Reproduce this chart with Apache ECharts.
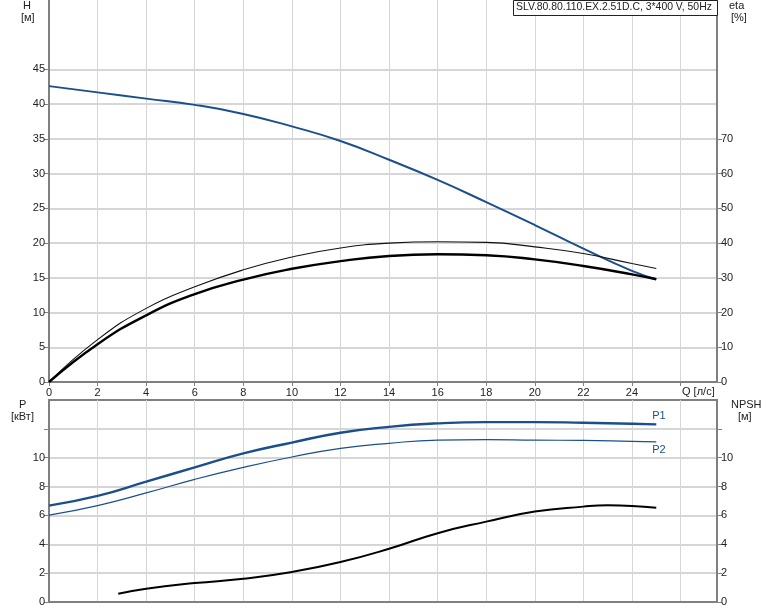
<!DOCTYPE html>
<html><head><meta charset="utf-8">
<script src="https://cdn.jsdelivr.net/npm/echarts@6/dist/echarts.min.js"></script>
<style>html,body{margin:0;padding:0;background:#fff}#c{width:774px;height:611px}</style>
</head><body><div id="c"></div>
<script>
const title = 'SLV.80.80.110.EX.2.51D.C, 3*400 V, 50Hz';
const qTicks = [0,2,4,6,8,10,12,14,16,18,20,22,24];
const hTicks = [0,5,10,15,20,25,30,35,40,45];
const etaTicks = [0,10,20,30,40,50,60,70];
const pTicks = [0,2,4,6,8,10,12];

const qH = [0,2,4,6,8,10,12,14,16,18,20,22,24,25];
const H  = [42.6,41.7,40.8,39.9,38.6,36.8,34.7,32.0,29.1,25.9,22.6,19.2,16.0,14.8];

const qEta = [0,2,4,6,8,10,12,14,16,18,20,22,24,25];
const etaThick = [0,10.9,19.2,25.3,29.5,32.6,34.8,36.3,36.8,36.5,35.3,33.4,31.0,29.6];
const etaThin  = [0,12.2,21.2,27.4,32.3,36.0,38.6,40.0,40.4,40.2,38.9,37.0,34.1,32.7];

const qP = [0,2,4,6,8,10,12,14,16,18,20,22,24,25];
const P1 = [6.68,7.35,8.34,9.33,10.3,11.05,11.73,12.14,12.38,12.47,12.47,12.42,12.35,12.31];
const P2 = [6.02,6.68,7.56,8.5,9.33,10.05,10.65,11.0,11.22,11.26,11.22,11.2,11.13,11.1];

const qN = [2.85,4,6,8,10,12,14,16,18,20,22,23,24,25];
const NPSH = [0.57,0.92,1.31,1.61,2.08,2.77,3.69,4.77,5.57,6.27,6.61,6.7,6.66,6.54];

const pairs = (xs, ys) => xs.map((x, i) => [x, ys[i]]);

const AX = '#808080', TXT = '#222', GRIDC = '#d6d6d6', BLUE = '#1a4f8c';
const FF = 'Liberation Sans, Arial, sans-serif';
const font = {fontFamily: FF, fontSize: 11, color: TXT};

const chart = echarts.init(document.getElementById('c'), null, {renderer: 'canvas'});

function yAx(grid, pos, max, interval, ticks, labelMax, showSplit) {
  return {
    type: 'value', gridIndex: grid, position: pos, min: 0, max: max, interval: interval,
    axisLine: {show: true, onZero: false, lineStyle: {color: AX, width: 2}},
    axisTick: {show: true, length: 5, lineStyle: {color: AX, width: 1}, customValues: ticks},
    axisLabel: Object.assign({margin: 4, customValues: ticks.filter(v => v <= labelMax)}, font),
    splitLine: {show: showSplit, lineStyle: {color: GRIDC, width: 2}}
  };
}

function line(name, xi, yi, data, color, width, extra) {
  return Object.assign({type: 'line', name: name, xAxisIndex: xi, yAxisIndex: yi, data: data,
    smooth: 0.5, showSymbol: false, lineStyle: {color: color, width: width}}, extra || {});
}

chart.setOption({
  animation: false,
  grid: [
    {left: 49, right: 57, top: 0, height: 382, show: false},
    {left: 49, right: 57, top: 400, height: 202, show: true, borderColor: AX, borderWidth: 2, backgroundColor: 'transparent'}
  ],
  xAxis: [
    {type: 'value', gridIndex: 0, min: 0, max: 27.5, interval: 2,
     axisLine: {show: true, onZero: false, lineStyle: {color: AX, width: 2}},
     axisTick: {show: true, length: 4, lineStyle: {color: AX}, customValues: qTicks.concat([26])},
     axisLabel: Object.assign({margin: 5, customValues: qTicks}, font),
     splitLine: {show: true, lineStyle: {color: GRIDC, width: 1}}},
    {type: 'value', gridIndex: 1, min: 0, max: 27.5, interval: 2,
     axisLine: {show: true, onZero: false, lineStyle: {color: AX, width: 2}},
     axisTick: {show: false}, axisLabel: {show: false},
     splitLine: {show: true, lineStyle: {color: GRIDC, width: 1}}}
  ],
  yAxis: [
    yAx(0, 'left', 55, 5, hTicks, 45, true),
    yAx(0, 'right', 110, 10, etaTicks, 70, false),
    yAx(1, 'left', 14, 2, pTicks, 10, true),
    yAx(1, 'right', 14, 2, pTicks, 10, false)
  ],
  series: [
    line('H', 0, 0, pairs(qH, H), BLUE, 2),
    line('eta2', 0, 1, pairs(qEta, etaThin), '#111', 1.1),
    line('eta', 0, 1, pairs(qEta, etaThick), '#000', 2.4),
    line('P1', 1, 2, pairs(qP, P1), BLUE, 2.4,
      {endLabel: {show: true, formatter: 'P1', color: BLUE, fontFamily: FF, fontSize: 11, offset: [-12, -8]}}),
    line('P2', 1, 2, pairs(qP, P2), BLUE, 1.2,
      {endLabel: {show: true, formatter: 'P2', color: BLUE, fontFamily: FF, fontSize: 11, offset: [-12, 8]}}),
    line('NPSH', 1, 3, pairs(qN, NPSH), '#000', 2)
  ],
  graphic: [
    {type: 'text', left: 23, top: 0, style: {text: 'H', fill: TXT, font: '11px Liberation Sans'}},
    {type: 'text', left: 21, top: 12, style: {text: '[м]', fill: TXT, font: '11px Liberation Sans'}},
    {type: 'text', left: 729, top: 0, style: {text: 'eta', fill: TXT, font: '11px Liberation Sans'}},
    {type: 'text', left: 731, top: 12, style: {text: '[%]', fill: TXT, font: '11px Liberation Sans'}},
    {type: 'text', left: 19, top: 399, style: {text: 'P', fill: TXT, font: '11px Liberation Sans'}},
    {type: 'text', left: 11, top: 411, style: {text: '[кВт]', fill: TXT, font: '11px Liberation Sans'}},
    {type: 'text', left: 731, top: 399, style: {text: 'NPSH', fill: TXT, font: '11px Liberation Sans'}},
    {type: 'text', left: 738, top: 411, style: {text: '[м]', fill: TXT, font: '11px Liberation Sans'}},
    {type: 'text', left: 682, top: 386, style: {text: 'Q [л/с]', fill: TXT, font: '11px Liberation Sans'}},
    {type: 'rect', left: 513, top: 0, shape: {width: 204, height: 15}, style: {fill: '#fff', stroke: '#222', lineWidth: 1}, z: 10},
    {type: 'text', left: 516, top: 2, style: {text: title, fill: TXT, font: '10.4px Liberation Sans'}, z: 11}
  ]
});
</script></body></html>
